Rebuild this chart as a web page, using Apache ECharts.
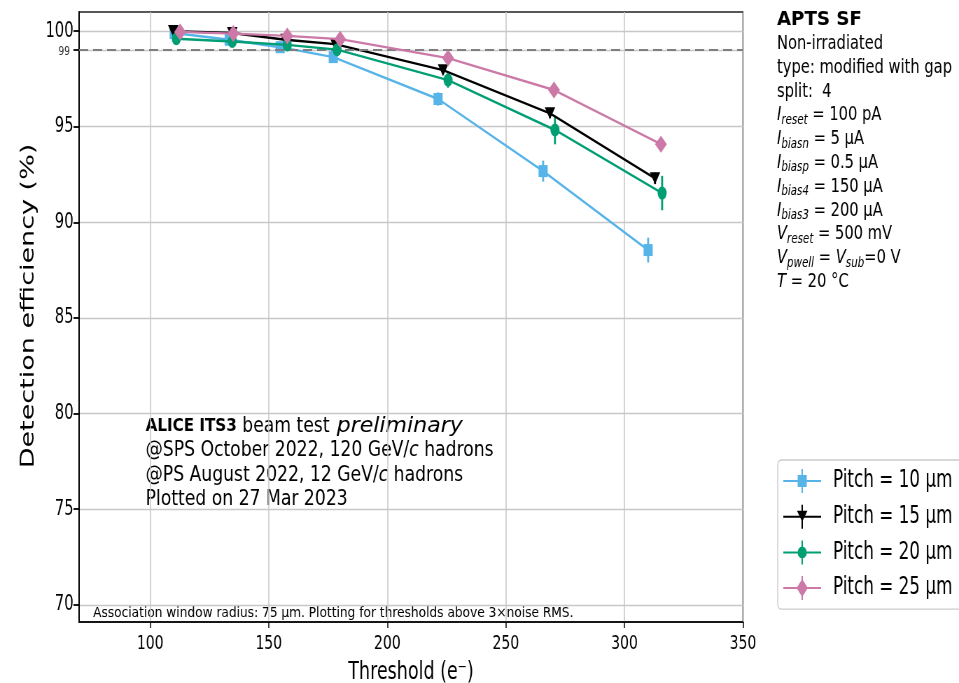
<!DOCTYPE html>
<html><head><meta charset="utf-8">
<script src="https://cdn.jsdelivr.net/npm/echarts@6/dist/echarts.min.js"></script>
<style>
html,body{margin:0;padding:0;overflow:hidden;background:#fff;width:959px;height:683px;}
#wrap{width:959px;height:683px;overflow:hidden;position:relative;}
#chart{width:1370px;height:683px;transform:scaleX(0.7);transform-origin:0 0;}
</style></head><body><div id="wrap"><div id="chart"></div></div>
<script>
// ---- data ----
const seriesNames = ['Pitch = 10 µm', 'Pitch = 15 µm', 'Pitch = 20 µm', 'Pitch = 25 µm'];
const thr10 = [110.1, 133.3, 154.8, 177.2, 221.4, 265.7, 310.0];
const eff10 = [99.90, 99.55, 99.16, 98.64, 96.45, 92.68, 88.55];
const err10 = [0.15, 0.15, 0.15, 0.2, 0.35, 0.55, 0.65];
const thr15 = [109.7, 134.6, 157.0, 178.0, 223.5, 268.6, 312.9];
const eff15 = [100.0, 99.90, 99.55, 99.32, 97.96, 95.70, 92.30];
const err15 = [0.1, 0.1, 0.1, 0.12, 0.2, 0.25, 0.3];
const thr20 = [111.0, 134.6, 157.8, 178.8, 225.6, 270.7, 315.9];
const eff20 = [99.60, 99.46, 99.28, 99.03, 97.44, 94.83, 91.53];
const err20 = [0.15, 0.15, 0.15, 0.2, 0.4, 0.75, 0.9];
const thr25 = [112.6, 135.0, 157.8, 180.1, 225.6, 270.3, 315.4];
const eff25 = [99.96, 99.87, 99.75, 99.58, 98.59, 96.92, 94.09];
const err25 = [0.1, 0.1, 0.1, 0.1, 0.12, 0.15, 0.15];
const xTicks = [100, 150, 200, 250, 300, 350];
const yTicks = [70, 75, 80, 85, 90, 95, 100];
const refLevel = 99;
const infoLines = [
  '{b|APTS SF}',
  '{n|Non-irradiated}',
  '{n|type: modified with gap}',
  '{n|split:  4}',
  '{i|I}{s|reset}{n| = 100 pA}',
  '{i|I}{s|biasn}{n| = 5 µA}',
  '{i|I}{s|biasp}{n| = 0.5 µA}',
  '{i|I}{s|bias4}{n| = 150 µA}',
  '{i|I}{s|bias3}{n| = 200 µA}',
  '{i|V}{s|reset}{n| = 500 mV}',
  '{i|V}{s|pwell}{n| = }{i|V}{s|sub}{n|=0 V}',
  '{i|T}{n| = 20 °C}'
];
const noteHead = '{b|ALICE ITS3}{n| beam test }';
const noteHeadItalic = 'preliminary';
const noteLines = [
  '{n|@SPS October 2022, 120 GeV/}{i|c}{n| hadrons}',
  '{n|@PS August 2022, 12 GeV/}{i|c}{n| hadrons}',
  '{n|Plotted on 27 Mar 2023}'
];
const footNote = 'Association window radius: 75 µm. Plotting for thresholds above 3×noise RMS.';

// ---- styling ----
const FONT = 'DejaVu Sans';
const colors = ['#56B4E9', '#000000', '#009E73', '#CC79A7'];
const symbols = ['rect', 'triangle', 'circle', 'diamond'];
const symSizes = [[13, 12], [15, 12], [13, 13], [17, 17]];
const symRot = [0, 180, 0, 0];
const thrs = [thr10, thr15, thr20, thr25];
const effs = [eff10, eff15, eff20, eff25];
const errs = [err10, err15, err20, err25];
const legendMarks = [
  'M20.5 6H33.5V18H20.5Z',
  'M19.5 6H34.5L27 17Z',
  'M33.5 12A6.5 6 0 1 1 20.5 12A6.5 6 0 1 1 33.5 12Z',
  'M27 3L35 12L27 21L19 12Z'
];
const legendBase = 'M0 11H54V13H0Z M26 0H28V24H26Z ';

const chart = echarts.init(document.getElementById('chart'), null, {renderer: 'canvas'});

const series = [];
for (let k = 0; k < 4; k++) {
  const col = colors[k];
  series.push({
    type: 'custom',
    name: seriesNames[k] + ' err',
    z: 2,
    silent: true,
    data: thrs[k].map((x, i) => [x, effs[k][i] - errs[k][i], effs[k][i] + errs[k][i]]),
    encode: {x: 0, y: [1, 2]},
    renderItem: function (params, api) {
      const p1 = api.coord([api.value(0), api.value(1)]);
      const p2 = api.coord([api.value(0), api.value(2)]);
      return {type: 'line', shape: {x1: p1[0], y1: p1[1], x2: p2[0], y2: p2[1]},
        style: {stroke: col, lineWidth: 2.8}};
    }
  });
}
for (let k = 0; k < 4; k++) {
  const s = {
    type: 'line',
    name: seriesNames[k],
    z: 3 + k,
    data: thrs[k].map((x, i) => [x, effs[k][i]]),
    symbol: symbols[k],
    symbolSize: symSizes[k],
    symbolRotate: symRot[k],
    showSymbol: true,
    color: colors[k],
    itemStyle: {color: colors[k], borderWidth: 0},
    lineStyle: {color: colors[k], width: 2.4},
    animation: false
  };
  if (k === 0) {
    s.markLine = {
      silent: true, symbol: 'none', animation: false,
      label: {show: false},
      lineStyle: {color: '#7f7f7f', type: [13, 7], width: 2},
      data: [{yAxis: refLevel}]
    };
  }
  series.push(s);
}

const noteRich = {
  b: {fontFamily: FONT, fontSize: 18.5, fontWeight: 'bold', lineHeight: 25},
  n: {fontFamily: FONT, fontSize: 21, lineHeight: 25},
  i: {fontFamily: FONT, fontSize: 21, fontStyle: 'italic', lineHeight: 25}
};
const graphics = [];
infoLines.forEach((t, i) => {
  graphics.push({
    type: 'text', left: 1110, top: 10 + i * 23.8,
    scaleX: i === 0 ? 1.3 : 1.05,
    style: {
      text: t, fontFamily: FONT, fontSize: 20, fill: '#000',
      rich: {
        b: {fontFamily: FONT, fontSize: 20, fontWeight: 'bold', lineHeight: 24, verticalAlign: 'middle'},
        n: {fontFamily: FONT, fontSize: 20, lineHeight: 24, verticalAlign: 'middle'},
        i: {fontFamily: FONT, fontSize: 20, fontStyle: 'italic', lineHeight: 24, verticalAlign: 'middle'},
        s: {fontFamily: FONT, fontSize: 14, fontStyle: 'italic', lineHeight: 14, verticalAlign: 'bottom'}
      }
    }
  });
});
graphics.push({
  type: 'text', left: 208, top: 416, scaleX: 1.17,
  style: {text: noteHead, fontFamily: FONT, fontSize: 21, fill: '#000', rich: noteRich}
});
graphics.push({
  type: 'text', left: 481, top: 416, scaleX: 1.5,
  style: {text: '{i|' + noteHeadItalic + '}', fontFamily: FONT, fontSize: 21, fill: '#000', rich: noteRich}
});
noteLines.forEach((t, i) => {
  graphics.push({
    type: 'text', left: 208, top: 416 + (i + 1) * 24.5,
    scaleX: 1.17,
    style: {text: t, fontFamily: FONT, fontSize: 21, fill: '#000', rich: noteRich}
  });
});
graphics.push({
  type: 'text', left: 133, top: 606,
  scaleX: 1.2,
  style: {text: footNote, fontFamily: FONT, fontSize: 14.5, fill: '#000'}
});

chart.setOption({
  animation: false,
  backgroundColor: '#fff',
  textStyle: {fontFamily: FONT},
  grid: {left: 113, right: 308.6, top: 12, bottom: 61, show: true, containLabel: false,
    outerBoundsMode: 'none',
    borderColor: '#222', borderWidth: 1.5, backgroundColor: 'transparent'},
  xAxis: {
    type: 'value', min: 70, max: 350,
    name: 'Threshold (e⁻)', nameLocation: 'middle', nameGap: 38,
    nameTextStyle: {fontFamily: FONT, fontSize: 25, color: '#000'},
    axisLine: {show: true, onZero: false, lineStyle: {color: '#000', width: 1.5}},
    axisTick: {show: true, customValues: xTicks, length: 6, lineStyle: {color: '#000', width: 1.5}},
    axisLabel: {customValues: xTicks, fontFamily: FONT, fontSize: 20, color: '#000', margin: 12},
    splitLine: {show: true, lineStyle: {color: '#c8c8c8', width: 1.6}}
  },
  yAxis: {
    type: 'value', min: 69.1, max: 101,
    name: 'Detection efficiency (%)', nameLocation: 'middle', nameGap: 52,
    nameTextStyle: {fontFamily: FONT, fontSize: 27, color: '#000', padding: [0, 0, 0, 22]},
    axisLine: {show: true, onZero: false, lineStyle: {color: '#000', width: 2}},
    axisTick: {show: true, customValues: yTicks.concat([refLevel]), length: 8, lineStyle: {color: '#000', width: 1.8}},
    axisLabel: {
      customValues: yTicks.concat([refLevel]), fontFamily: FONT, fontSize: 21, color: '#000', margin: 8,
      formatter: v => v === refLevel ? '{s|' + v + '}' : String(v),
      rich: {s: {fontFamily: FONT, fontSize: 13, color: '#333', padding: [3, 5, 0, 0]}}
    },
    splitLine: {show: true, lineStyle: {color: '#c8c8c8', width: 1.4}}
  },
  legend: {
    orient: 'vertical', left: 1111, top: 460,
    padding: [9, 14, 9, 8], itemWidth: 54, itemHeight: 24, itemGap: 11.7,
    borderColor: '#cccccc', borderWidth: 1.4, borderRadius: 5,
    itemStyle: {borderWidth: 0},
    textStyle: {fontFamily: FONT, fontSize: 24, color: '#000', padding: [0, 0, 0, 12]},
    data: seriesNames.map((n, k) => ({name: n, icon: 'path://' + legendBase + legendMarks[k]}))
  },
  graphic: graphics,
  series: series
});
</script></body></html>
